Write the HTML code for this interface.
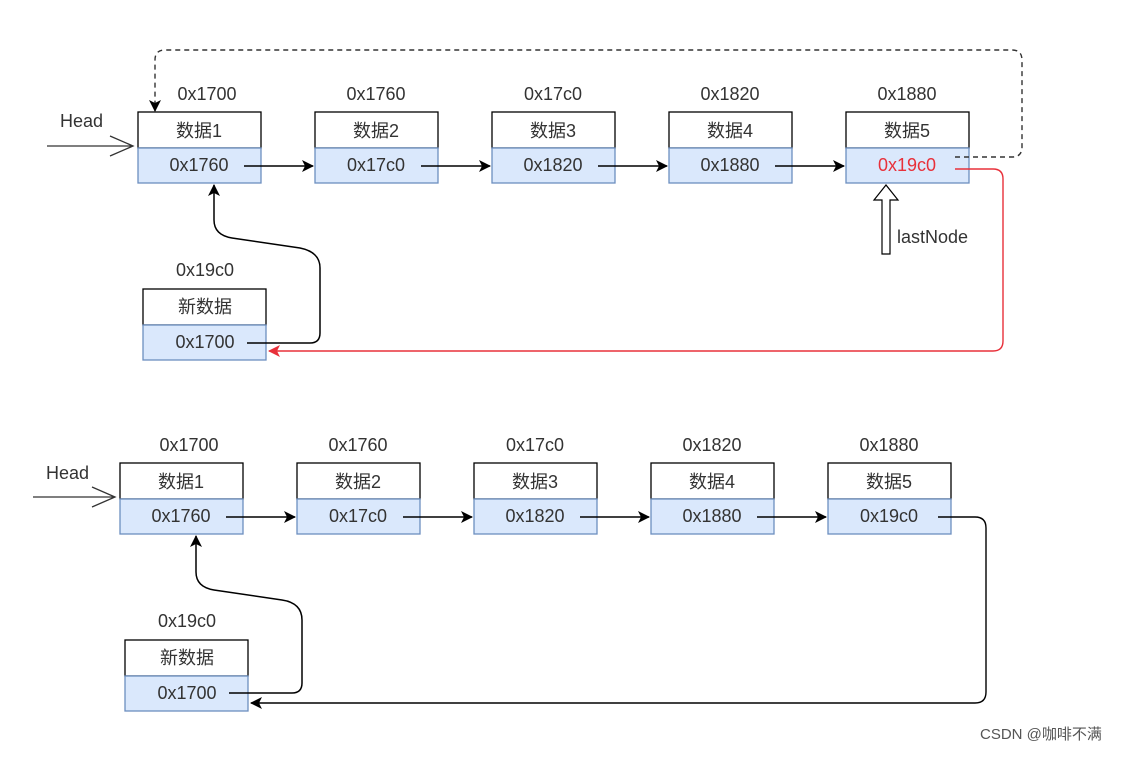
<!DOCTYPE html>
<html><head><meta charset="utf-8"><style>
body{margin:0;background:#fff;}
svg text{font-family:"Liberation Sans","Noto Sans CJK SC",sans-serif;font-size:18px;fill:#333;}
</style></head><body>
<svg width="1135" height="752" viewBox="0 0 1135 752" xmlns="http://www.w3.org/2000/svg">
<defs>
<marker id="a" markerWidth="12" markerHeight="12" refX="11" refY="6" orient="auto" markerUnits="userSpaceOnUse"><path d="M0,0 L12,6 L0,12 L3,6 Z" fill="#000"/></marker>
<marker id="r" markerWidth="12" markerHeight="12" refX="11" refY="6" orient="auto" markerUnits="userSpaceOnUse"><path d="M0,0 L12,6 L0,12 L3,6 Z" fill="#e8303a"/></marker>
<g id="box"><rect x="0" y="0" width="123" height="36" fill="#fff" stroke="#000" stroke-width="1.3"/><rect x="0" y="36" width="123" height="35" fill="#dae8fc" stroke="#6c8ebf" stroke-width="1.3"/></g>
</defs>
<g>
<use href="#box" x="138" y="112"/><use href="#box" x="315" y="112"/><use href="#box" x="492" y="112"/><use href="#box" x="669" y="112"/><use href="#box" x="846" y="112"/>
<use href="#box" x="143" y="289"/>
<text x="207" y="100" text-anchor="middle">0x1700</text>
<text x="376" y="100" text-anchor="middle">0x1760</text>
<text x="553" y="100" text-anchor="middle">0x17c0</text>
<text x="730" y="100" text-anchor="middle">0x1820</text>
<text x="907" y="100" text-anchor="middle">0x1880</text>
<text x="199" y="137" text-anchor="middle">数据1</text>
<text x="376" y="137" text-anchor="middle">数据2</text>
<text x="553" y="137" text-anchor="middle">数据3</text>
<text x="730" y="137" text-anchor="middle">数据4</text>
<text x="907" y="137" text-anchor="middle">数据5</text>
<text x="199" y="171" text-anchor="middle">0x1760</text>
<text x="376" y="171" text-anchor="middle">0x17c0</text>
<text x="553" y="171" text-anchor="middle">0x1820</text>
<text x="730" y="171" text-anchor="middle">0x1880</text>
<text x="907" y="171" text-anchor="middle" style="fill:#e8303a">0x19c0</text>
<text x="205" y="276" text-anchor="middle">0x19c0</text>
<text x="205" y="313" text-anchor="middle">新数据</text>
<text x="205" y="348" text-anchor="middle">0x1700</text>
<text x="60" y="127">Head</text>
<text x="897" y="243">lastNode</text>
<path d="M47,146 H133 M110,136 L133,146 L110,156" fill="none" stroke="#333" stroke-width="1.3"/>
<path d="M244,166 H313" stroke="#000" stroke-width="1.5" marker-end="url(#a)"/>
<path d="M421,166 H490" stroke="#000" stroke-width="1.5" marker-end="url(#a)"/>
<path d="M598,166 H667" stroke="#000" stroke-width="1.5" marker-end="url(#a)"/>
<path d="M775,166 H844" stroke="#000" stroke-width="1.5" marker-end="url(#a)"/>
<path d="M955,157 H1012 Q1022,157 1022,147 V60 Q1022,50 1012,50 H165 Q155,50 155,60 V111" fill="none" stroke="#333" stroke-width="1.4" stroke-dasharray="5,4" marker-end="url(#a)"/>
<path d="M955,169 H993 Q1003,169 1003,179 V341 Q1003,351 993,351 H269" fill="none" stroke="#e8303a" stroke-width="1.4" marker-end="url(#r)"/>
<path d="M247,343 H310 Q320,343 320,333 V268 Q320,252 300,248 L232,238 Q214,235 214,220 V185" fill="none" stroke="#000" stroke-width="1.5" marker-end="url(#a)"/>
<path d="M882,254 V200 H874 L886,185 L898,200 H890 V254 Z" fill="#fff" stroke="#000" stroke-width="1.2"/>
</g>
<g>
<use href="#box" x="120" y="463"/><use href="#box" x="297" y="463"/><use href="#box" x="474" y="463"/><use href="#box" x="651" y="463"/><use href="#box" x="828" y="463"/>
<use href="#box" x="125" y="640"/>
<text x="189" y="451" text-anchor="middle">0x1700</text>
<text x="358" y="451" text-anchor="middle">0x1760</text>
<text x="535" y="451" text-anchor="middle">0x17c0</text>
<text x="712" y="451" text-anchor="middle">0x1820</text>
<text x="889" y="451" text-anchor="middle">0x1880</text>
<text x="181" y="488" text-anchor="middle">数据1</text>
<text x="358" y="488" text-anchor="middle">数据2</text>
<text x="535" y="488" text-anchor="middle">数据3</text>
<text x="712" y="488" text-anchor="middle">数据4</text>
<text x="889" y="488" text-anchor="middle">数据5</text>
<text x="181" y="522" text-anchor="middle">0x1760</text>
<text x="358" y="522" text-anchor="middle">0x17c0</text>
<text x="535" y="522" text-anchor="middle">0x1820</text>
<text x="712" y="522" text-anchor="middle">0x1880</text>
<text x="889" y="522" text-anchor="middle">0x19c0</text>
<text x="187" y="627" text-anchor="middle">0x19c0</text>
<text x="187" y="664" text-anchor="middle">新数据</text>
<text x="187" y="699" text-anchor="middle">0x1700</text>
<text x="46" y="479">Head</text>
<path d="M33,497 H115 M92,487 L115,497 L92,507" fill="none" stroke="#333" stroke-width="1.3"/>
<path d="M226,517 H295" stroke="#000" stroke-width="1.5" marker-end="url(#a)"/>
<path d="M403,517 H472" stroke="#000" stroke-width="1.5" marker-end="url(#a)"/>
<path d="M580,517 H649" stroke="#000" stroke-width="1.5" marker-end="url(#a)"/>
<path d="M757,517 H826" stroke="#000" stroke-width="1.5" marker-end="url(#a)"/>
<path d="M938,517 H975 Q986,517 986,528 V692 Q986,703 975,703 H251" fill="none" stroke="#000" stroke-width="1.4" marker-end="url(#a)"/>
<path d="M229,693 H292 Q302,693 302,683 V620 Q302,603 282,600 L214,590 Q196,587 196,572 V536" fill="none" stroke="#000" stroke-width="1.5" marker-end="url(#a)"/>
</g>
<text x="980" y="739" style="font-size:15px;fill:#555">CSDN @咖啡不满</text>
</svg>
</body></html>
